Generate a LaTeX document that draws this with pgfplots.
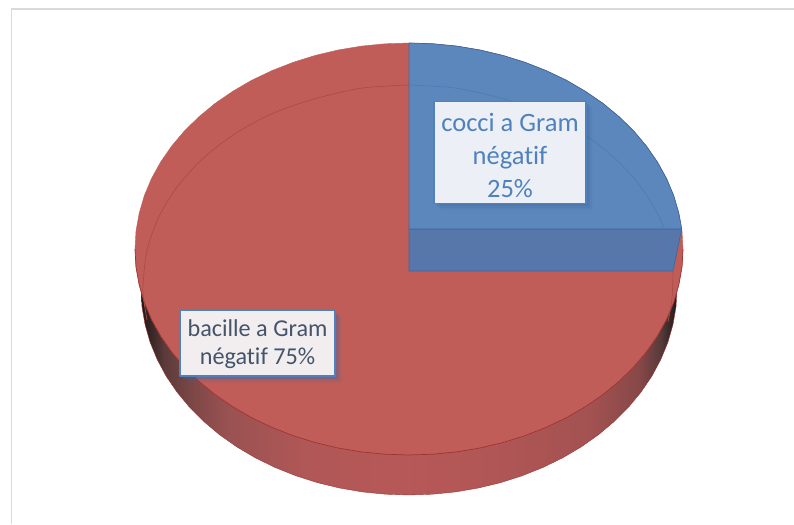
\documentclass[border=0pt]{standalone}
\usepackage{pgfplots}
\pgfplotsset{compat=1.18}
\usepackage{fontspec}
\setmainfont[Ligatures=NoCommon]{Carlito}
\usetikzlibrary{shadows}

% side wall of the pie, dark at both ends
\pgfdeclarehorizontalshading{wall}{100bp}{
  rgb(0bp)=(0.12,0.09,0.09);
  rgb(25bp)=(0.12,0.09,0.09);
  rgb(27.2bp)=(0.36,0.23,0.23);
  rgb(30bp)=(0.50,0.28,0.28);
  rgb(33bp)=(0.60,0.32,0.32);
  rgb(40bp)=(0.69,0.34,0.34);
  rgb(50bp)=(0.72,0.345,0.345);
  rgb(58.5bp)=(0.69,0.335,0.335);
  rgb(66.9bp)=(0.64,0.32,0.32);
  rgb(71.5bp)=(0.53,0.28,0.28);
  rgb(73.4bp)=(0.35,0.23,0.23);
  rgb(75bp)=(0.12,0.10,0.10);
  rgb(100bp)=(0.12,0.10,0.10)}

\definecolor{redtop}{RGB}{192,93,88}
\definecolor{redrim}{RGB}{158,52,50}
\definecolor{redin}{RGB}{172,76,74}
\definecolor{bluetop}{RGB}{91,135,189}
\definecolor{bluewall}{RGB}{87,119,171}
\definecolor{blueedge}{RGB}{60,104,160}
\definecolor{bluein}{RGB}{78,124,178}
\definecolor{labelblue}{RGB}{79,129,189}
\definecolor{labeldark}{RGB}{68,84,106}
\definecolor{boxblue}{RGB}{236,240,246}
\definecolor{boxred}{RGB}{242,238,240}
\definecolor{frame}{RGB}{217,217,217}

\tikzset{softshadow/.style={
  drop shadow={shadow xshift=7pt,shadow yshift=-7pt,opacity=.06,fill=#1},
  drop shadow={shadow xshift=5.5pt,shadow yshift=-5.5pt,opacity=.10,fill=#1},
  drop shadow={shadow xshift=4pt,shadow yshift=-4pt,opacity=.15,fill=#1},
  drop shadow={shadow xshift=2.5pt,shadow yshift=-2.5pt,opacity=.22,fill=#1}}}

\begin{document}
\begin{tikzpicture}
\path[use as bounding box] (0,0) rectangle (794pt,524pt);
\begin{axis}[
    scale only axis,
    width=794pt,
    height=524pt,
    xmin=0, xmax=794,
    ymin=0, ymax=524,
    y dir=reverse,
    hide axis,
    clip=false,
    line join=round,
]
% chart frame
\addplot[frame, line width=1.5pt] coordinates {(11.5,524) (11.5,8.8) (794,8.8)};

% side wall
\addplot[draw=redrim, line width=0.4pt, shade, shading=wall] coordinates {
  (677,289) (676,307) (672.9,324.8) (667.9,342.3) (660.8,359.5) (651.9,376.1)
  (641.1,392) (628.5,407.2) (614.3,421.4) (598.5,434.7) (581.3,446.8) (562.7,457.8)
  (543,467.4) (522.3,475.7) (500.7,482.6) (478.4,488) (455.5,491.9) (432.4,494.2)
  (409,495) (385.6,494.2) (362.5,491.9) (339.6,488) (317.3,482.6) (295.7,475.7)
  (275,467.4) (255.3,457.8) (236.7,446.8) (219.5,434.7) (203.7,421.4) (189.5,407.2)
  (176.9,392) (166.1,376.1) (157.2,359.5) (150.1,342.3) (145.1,324.8) (142,307)
  (141,289) (677,289)};

% bacille a Gram negatif, 75%
\addplot[fill=redtop, draw=redtop, line width=0.4pt] coordinates {
  (409,43) (432.9,43.8) (456.6,46.1) (479.9,50) (502.7,55.4) (524.8,62.3)
  (546,70.6) (566.2,80.2) (585.1,91.2) (602.8,103.3) (618.9,116.6) (633.5,130.8)
  (646.3,146) (657.3,161.9) (666.5,178.5) (673.7,195.7) (678.8,213.2) (682,231)
  (683,249) (682,267) (678.8,284.8) (673.7,302.3) (666.5,319.5) (657.3,336.1)
  (646.3,352) (633.5,367.2) (618.9,381.4) (602.8,394.7) (585.1,406.8) (566.2,417.8)
  (546,427.4) (524.8,435.7) (502.7,442.6) (479.9,448) (456.6,451.9) (432.9,454.2)
  (409,455) (385.1,454.2) (361.4,451.9) (338.1,448) (315.3,442.6) (293.2,435.7)
  (272,427.4) (251.8,417.8) (232.9,406.8) (215.2,394.7) (199.1,381.4) (184.5,367.2)
  (171.7,352) (160.7,336.1) (151.5,319.5) (144.3,302.3) (139.2,284.8) (136,267)
  (135,249) (136,231) (139.2,213.2) (144.3,195.7) (151.5,178.5) (160.7,161.9)
  (171.7,146) (184.5,130.8) (199.1,116.6) (215.2,103.3) (232.9,91.2) (251.8,80.2)
  (272,70.6) (293.2,62.3) (315.3,55.4) (338.1,50) (361.4,46.1) (385.1,43.8) (409,43)};
% front rim of the top face
\addplot[redrim, line width=0.7pt] coordinates {
  (683,249) (682,267) (678.8,284.8) (673.7,302.3) (666.5,319.5) (657.3,336.1)
  (646.3,352) (633.5,367.2) (618.9,381.4) (602.8,394.7) (585.1,406.8) (566.2,417.8)
  (546,427.4) (524.8,435.7) (502.7,442.6) (479.9,448) (456.6,451.9) (432.9,454.2)
  (409,455) (385.1,454.2) (361.4,451.9) (338.1,448) (315.3,442.6) (293.2,435.7)
  (272,427.4) (251.8,417.8) (232.9,406.8) (215.2,394.7) (199.1,381.4) (184.5,367.2)
  (171.7,352) (160.7,336.1) (151.5,319.5) (144.3,302.3) (139.2,284.8) (136,267)
  (135,249)};

% faint far edge seen through the red part
\addplot[redin, line width=0.7pt, smooth] coordinates {
  (147,320) (143.5,298) (143,285) (147,250.3) (159,216.6) (178.6,185) (205.2,156.4)
  (238,131.8) (276,112) (318,97.9) (362.8,88) (409,85)};

% cocci a Gram negatif, 25%
\addplot[fill=bluewall, draw=blueedge, line width=0.7pt] coordinates {
  (409,229) (681.7,229) (673,271) (409,271) (409,229)};
\addplot[fill=bluetop, draw=blueedge, line width=0.7pt] coordinates {
  (409,43) (432.9,43.8) (456.6,46.1) (479.9,50) (502.7,55.4) (524.8,62.3)
  (546,70.6) (566.2,80.2) (585.1,91.2) (602.8,103.3) (618.9,116.6) (633.5,130.8)
  (646.3,146) (657.3,161.9) (666.5,178.5) (673.7,195.7) (678.8,213.2) (681.7,229)
  (409,229) (409,43)};
\addplot[bluein, line width=0.7pt, smooth] coordinates {
  (409,85) (455.2,88) (500,97.9) (542,112) (580,131.8) (612.8,156.4)
  (639.4,185) (659,216.6) (671,250.3) (673,271)};
\addplot[redin, line width=0.7pt, smooth] coordinates {(673,271) (672,298) (668,322)};

\node[softshadow=blueedge, fill=boxblue, draw=labelblue, line width=1.2pt,
      minimum width=152pt, minimum height=102pt, inner sep=0pt]
  at (axis cs:510,152.5) {};
\node[align=center, inner sep=0pt, font=\fontsize{26.5}{33}\selectfont, text=labelblue]
  at (axis cs:510,155) {cocci a Gram\\négatif\\25\%};
\node[softshadow=blueedge, fill=boxred, draw=labelblue, line width=2.5pt,
      minimum width=155pt, minimum height=66pt, inner sep=0pt]
  at (axis cs:257.5,343) {};
\node[align=center, inner sep=0pt, font=\fontsize{24.2}{28.5}\selectfont, text=labeldark]
  at (axis cs:257.5,344) {bacille a Gram\\négatif 75\%};
\end{axis}
\end{tikzpicture}
\end{document}
